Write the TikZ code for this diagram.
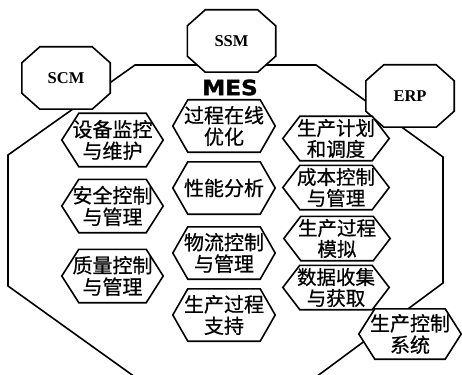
\documentclass[tikz,border=0pt]{standalone}
\usepackage{fontspec}
\usepackage{graphicx}
\setmainfont{Liberation Serif}
\newfontfamily\cjk[FakeBold=0.6]{Noto Sans CJK SC}
\newfontfamily\mesfont[FakeBold=1.5]{DejaVu Sans Bold}
\pgfdeclarelayer{back}
\pgfdeclarelayer{mid}
\pgfsetlayers{back,mid,main}
\tikzset{
  outl/.style={line width=1.6pt, line join=miter},
  shp/.style={line width=1.6pt, fill=white, line join=miter},
  box/.style={inner sep=0pt, align=center},
  cn/.style={box, font=\cjk\fontsize{20}{21.5}\selectfont},
  hexL/.style={cn, minimum width=101pt, minimum height=53pt},
  hexR/.style={cn, minimum width=106pt, minimum height=44pt, font=\cjk\fontsize{19.5}{21}\selectfont},
  oct/.style={box, minimum width=88pt, minimum height=62pt, font=\bfseries\fontsize{16.5}{18}\selectfont},
}
\newcommand{\hexpath}[2]{%
  \begin{pgfonlayer}{mid}
  \draw[shp] (#1.west) -- ([xshift=#2]#1.north west) -- ([xshift=-#2]#1.north east)
    -- (#1.east) -- ([xshift=-#2]#1.south east) -- ([xshift=#2]#1.south west) -- cycle;
  \end{pgfonlayer}}
\newcommand{\octpath}[1]{%
  \begin{pgfonlayer}{mid}
  \draw[shp] ([yshift=-16pt]#1.north west) -- ([xshift=18pt]#1.north west)
    -- ([xshift=-18pt]#1.north east) -- ([yshift=-16pt]#1.north east)
    -- ([yshift=16pt]#1.south east) -- ([xshift=-18pt]#1.south east)
    -- ([xshift=18pt]#1.south west) -- ([yshift=16pt]#1.south west) -- cycle;
  \end{pgfonlayer}}
\begin{document}
\begin{tikzpicture}[x=1pt,y=-1pt]
\useasboundingbox (0,0) rectangle (462,374);
% big MES outline
\coordinate (o1) at (135,65);
\coordinate (o2) at (316,65);
\coordinate (o3) at (443,157);
\coordinate (o4) at (443,283);
\coordinate (o5) at (316,377);
\coordinate (o6) at (135,377);
\coordinate (o7) at (8,286);
\coordinate (o8) at (8,155);
\begin{pgfonlayer}{back}
\draw[outl] (o1) -- (o2) -- (o3) -- (o4) -- (o5) -- (o6) -- (o7) -- (o8) -- cycle;
\end{pgfonlayer}
% outer systems
\node[oct] (ssm) at (231.5,41) {SSM};
\node[oct] (scm) at (66,78) {SCM};
\node[oct] (erp) at (410,96) {ERP};
\octpath{ssm}\octpath{scm}\octpath{erp}
\node[box, font=\mesfont\fontsize{21}{22}\selectfont] (mes) at (230,87.5) {\scalebox{1.1}[1]{MES}};
% left column
\node[hexL] (a1) at (112.5,140) {设备监控\\与维护};
\node[hexL] (a2) at (112.5,206) {安全控制\\与管理};
\node[hexL] (a3) at (112.5,276) {质量控制\\与管理};
\hexpath{a1}{17pt}\hexpath{a2}{17pt}\hexpath{a3}{17pt}
% middle column
\node[hexL, minimum width=102pt, minimum height=52pt] (b1) at (224,126) {过程在线\\优化};
\node[hexL, minimum width=102pt, minimum height=52pt] (b2) at (224,188) {性能分析};
\node[hexL, minimum width=102pt, minimum height=52pt] (b3) at (224,253) {物流控制\\与管理};
\node[hexL, minimum width=102pt, minimum height=52pt] (b4) at (224,315) {生产过程\\支持};
\hexpath{b1}{15pt}\hexpath{b2}{15pt}\hexpath{b3}{15pt}\hexpath{b4}{15pt}
% right column
\node[hexR] (c1) at (336,138.5) {生产计划\\和调度};
\node[hexR] (c2) at (336,187.5) {成本控制\\与管理};
\node[hexR] (c3) at (337,238.5) {生产过程\\模拟};
\node[hexR] (c4) at (336,287.5) {数据收集\\与获取};
\hexpath{c1}{17pt}\hexpath{c2}{17pt}\hexpath{c3}{17pt}\hexpath{c4}{17pt}
% production control system
\node[hexL, minimum width=102pt, minimum height=50pt] (pcs) at (410,334) {生产控制\\系统};
\hexpath{pcs}{16pt}
\end{tikzpicture}
\end{document}
